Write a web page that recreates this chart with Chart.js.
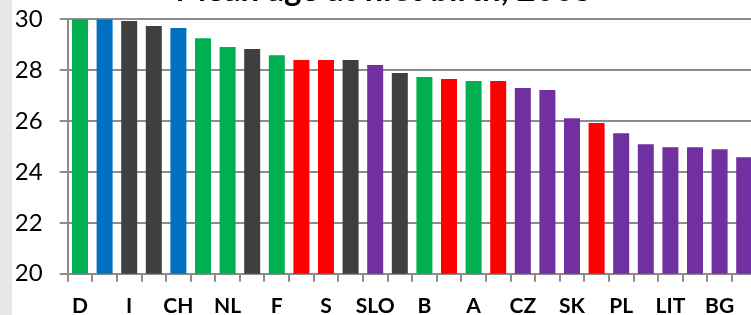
<!DOCTYPE html>
<html>
<head>
<meta charset="utf-8">
<script src="https://cdn.jsdelivr.net/npm/chart.js@4/dist/chart.umd.min.js"></script>
<style>
  html, body { margin: 0; padding: 0; width: 751px; height: 315px; overflow: hidden; background: #ffffff; }
  #strip { position: absolute; left: 0; top: 0; width: 12px; height: 315px; background: #e6e6e6; }
  #wrap { position: absolute; left: 12px; top: -30px; width: 752px; height: 345px; }
</style>
</head>
<body>
<div id="strip"></div>
<div id="wrap"><canvas id="c" width="752" height="345"></canvas></div>
<script>
const titleText = "Mean age at first birth, 2005";
const categories = ["D","","I","","CH","","NL","","F","","S","","SLO","","B","","A","","CZ","","SK","","PL","","LIT","","BG",""];
const values = [30.0,30.0,29.93,29.74,29.66,29.26,28.91,28.83,28.59,28.40,28.40,28.40,28.20,27.89,27.73,27.65,27.57,27.57,27.30,27.22,26.11,25.92,25.52,25.09,24.97,24.97,24.89,24.58];
const groups = ["g","b","k","k","b","g","g","k","g","r","r","k","p","k","g","r","g","r","p","p","p","r","p","p","p","p","p","p"];
const palette = { g: "#00b050", b: "#0070c0", k: "#3f3f3f", r: "#ff0000", p: "#7030a0" };
const yTicks = { min: 20, max: 30, step: 2 };

new Chart(document.getElementById("c"), {
  type: "bar",
  data: {
    labels: categories,
    datasets: [{
      data: values,
      backgroundColor: groups.map(g => palette[g]),
      borderWidth: 0,
      barPercentage: 0.65,
      categoryPercentage: 1.0
    }]
  },
  options: {
    responsive: false,
    animation: false,
    layout: { padding: { left: 0, right: 7.5, top: 0, bottom: 0 } },
    plugins: {
      legend: { display: false },
      tooltip: { enabled: false },
      title: {
        display: true,
        text: titleText,
        color: "#000000",
        font: { family: "Lato", size: 33, weight: "bold", lineHeight: 1.2 },
        padding: { top: 0.8, bottom: 8.9 }
      }
    },
    scales: {
      x: {
        afterFit: s => { s.height = 41.3; },
        grid: { display: true, offset: true, drawOnChartArea: false, drawTicks: true, tickLength: 8, color: "#8c8c8c", lineWidth: 2 },
        border: { display: true, color: "#8c8c8c", width: 2 },
        ticks: { autoSkip: false, maxRotation: 0, minRotation: 0, padding: 12, color: "#000000", font: { family: "Lato", size: 21, weight: "bold" } }
      },
      y: {
        min: yTicks.min, max: yTicks.max,
        afterFit: s => { s.width = 55.7; },
        grid: { color: "#8c8c8c", lineWidth: 2, drawTicks: true, tickLength: 8 },
        border: { display: true, color: "#8c8c8c", width: 2 },
        ticks: { stepSize: yTicks.step, padding: 17, color: "#000000", font: { family: "Lato", size: 24 } }
      }
    }
  }
});
</script>
</body>
</html>
